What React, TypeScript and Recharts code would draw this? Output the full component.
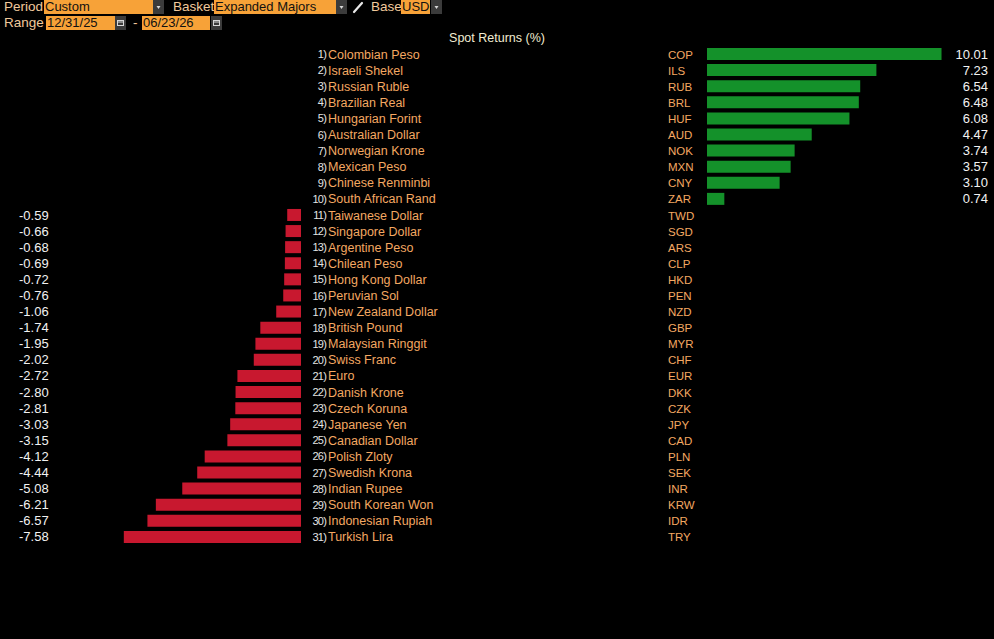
import { BarChart, Bar, XAxis, YAxis } from "recharts";

// Spot returns vs USD, sorted best to worst
const CURRENCIES = [
  "Colombian Peso", "Israeli Shekel", "Russian Ruble", "Brazilian Real", "Hungarian Forint",
  "Australian Dollar", "Norwegian Krone", "Mexican Peso", "Chinese Renminbi", "South African Rand",
  "Taiwanese Dollar", "Singapore Dollar", "Argentine Peso", "Chilean Peso", "Hong Kong Dollar",
  "Peruvian Sol", "New Zealand Dollar", "British Pound", "Malaysian Ringgit", "Swiss Franc",
  "Euro", "Danish Krone", "Czech Koruna", "Japanese Yen", "Canadian Dollar",
  "Polish Zloty", "Swedish Krona", "Indian Rupee", "South Korean Won", "Indonesian Rupiah",
  "Turkish Lira",
];
const CODES = [
  "COP", "ILS", "RUB", "BRL", "HUF", "AUD", "NOK", "MXN", "CNY", "ZAR",
  "TWD", "SGD", "ARS", "CLP", "HKD", "PEN", "NZD", "GBP", "MYR", "CHF",
  "EUR", "DKK", "CZK", "JPY", "CAD", "PLN", "SEK", "INR", "KRW", "IDR", "TRY",
];
const RETURNS = [
  10.01, 7.23, 6.54, 6.48, 6.08, 4.47, 3.74, 3.57, 3.1, 0.74,
  -0.59, -0.66, -0.68, -0.69, -0.72, -0.76, -1.06, -1.74, -1.95, -2.02,
  -2.72, -2.8, -2.81, -3.03, -3.15, -4.12, -4.44, -5.08, -6.21, -6.57, -7.58,
];

const rows = CURRENCIES.map((name, i) => ({
  name,
  rank: i + 1,
  code: CODES[i],
  ret: RETURNS[i],
  neg: RETURNS[i] < 0 ? RETURNS[i] : null,
  pos: RETURNS[i] > 0 ? RETURNS[i] : null,
}));

const FONT = "'Liberation Sans', Arial, sans-serif";
const ORANGE_TEXT = "#f4a862";
const FIELD = "#f7a238";
const GREEN = "#14912a";
const RED = "#c8182f";

const rowOf = (payload: any) => rows.find((r) => r.name === payload?.value);

const NegValueTick = (props: any) => {
  const r = rowOf(props.payload);
  if (!r || r.ret >= 0) return null;
  return (
    <text x={19} y={props.y} dy={4.5} fill="#f2f2f2" fontSize={13} fontFamily={FONT}>
      {r.ret.toFixed(2)}
    </text>
  );
};

const NameTick = (props: any) => {
  const r = rowOf(props.payload);
  if (!r) return null;
  return (
    <g>
      <text x={326} y={props.y} dy={4} textAnchor="end" fill="#e4e4e4" fontSize={11} letterSpacing={-0.8} fontFamily={FONT}>
        {r.rank})
      </text>
      <text x={328} y={props.y} dy={4.5} fill={ORANGE_TEXT} fontSize={12.5} fontFamily={FONT}>
        {r.name}
      </text>
    </g>
  );
};

const CodeTick = (props: any) => {
  const r = rowOf(props.payload);
  if (!r) return null;
  return (
    <text x={8} y={props.y} dy={4.5} fill={ORANGE_TEXT} fontSize={11.5} fontFamily={FONT}>
      {r.code}
    </text>
  );
};

const PosValueTick = (props: any) => {
  const r = rowOf(props.payload);
  if (!r || r.ret <= 0) return null;
  return (
    <text x={328} y={props.y} dy={4.5} textAnchor="end" fill="#f2f2f2" fontSize={13} fontFamily={FONT}>
      {r.ret.toFixed(2)}
    </text>
  );
};

const Label = ({ x, y, text }: { x: number; y: number; text: string }) => (
  <div style={{ position: "absolute", left: x, top: y, color: "#f1c99c", fontSize: 13.5, lineHeight: "14px" }}>{text}</div>
);

const Field = ({ x, y, w, text }: { x: number; y: number; w: number; text: string }) => (
  <div
    style={{
      position: "absolute", left: x, top: y, width: w, height: 14, background: FIELD,
      color: "#111", fontSize: 13, lineHeight: "14px", paddingLeft: 1, boxSizing: "border-box",
      whiteSpace: "nowrap",
    }}
  >
    {text}
  </div>
);

const DropButton = ({ x, y }: { x: number; y: number }) => (
  <div style={{ position: "absolute", left: x, top: y, width: 11, height: 14, background: "#3b3b3b" }}>
    <svg width={11} height={14}>
      <path d="M3.5 6 L7.5 6 L5.5 9 Z" fill="#d8d8d8" />
    </svg>
  </div>
);

const CalButton = ({ x, y }: { x: number; y: number }) => (
  <div style={{ position: "absolute", left: x, top: y, width: 11, height: 14, background: "#3b3b3b" }}>
    <svg width={11} height={14}>
      <rect x={2.5} y={4.5} width={6} height={5} fill="none" stroke="#d8d8d8" strokeWidth={1} />
      <line x1={2.5} y1={6} x2={8.5} y2={6} stroke="#d8d8d8" />
    </svg>
  </div>
);

const App = () => {
  return (
    <div
      style={{
        position: "absolute", left: 0, top: 0, width: 994, height: 639,
        background: "#000", fontFamily: FONT, overflow: "hidden",
      }}
    >
      {/* toolbar */}
      <Label x={4} y={0} text="Period" />
      <Field x={44} y={0} w={109} text="Custom" />
      <DropButton x={153} y={0} />
      <Label x={173} y={0} text="Basket" />
      <Field x={214} y={0} w={122} text="Expanded Majors" />
      <DropButton x={336} y={0} />
      <svg style={{ position: "absolute", left: 351, top: 0 }} width={14} height={14}>
        <path d="M3 12 L11 3" stroke="#e8e8e8" strokeWidth={2.2} strokeLinecap="round" />
      </svg>
      <Label x={371} y={0} text="Base" />
      <Field x={401} y={0} w={29} text="USD" />
      <DropButton x={431} y={0} />
      <Label x={4} y={16} text="Range" />
      <Field x={46} y={16} w={69} text="12/31/25" />
      <CalButton x={115} y={16} />
      <Label x={133} y={16} text="-" />
      <Field x={142} y={16} w={68} text="06/23/26" />
      <CalButton x={211} y={16} />

      <div
        style={{
          position: "absolute", left: 0, top: 31, width: 994, textAlign: "center",
          color: "#f2ecd2", fontSize: 12.5, lineHeight: "14px",
        }}
      >
        Spot Returns (%)
      </div>

      {/* losers, bars grow left from zero */}
      <div style={{ position: "absolute", left: 0, top: 0 }}>
        <BarChart
          layout="vertical"
          width={660}
          height={639}
          data={rows}
          margin={{ top: 46, right: 0, bottom: 94, left: 0 }}
        >
          <XAxis type="number" domain={[-8, 0]} hide />
          <YAxis
            yAxisId="vals"
            type="category"
            dataKey="name"
            width={114}
            interval={0}
            axisLine={false}
            tickLine={false}
            tick={<NegValueTick />}
          />
          <YAxis
            yAxisId="names"
            orientation="right"
            type="category"
            dataKey="name"
            width={359}
            interval={0}
            axisLine={false}
            tickLine={false}
            tick={<NameTick />}
          />
          <Bar dataKey="neg" yAxisId="vals" fill={RED} barSize={12} isAnimationActive={false} />
        </BarChart>
      </div>

      {/* gainers */}
      <div style={{ position: "absolute", left: 660, top: 0 }}>
        <BarChart
          layout="vertical"
          width={334}
          height={639}
          data={rows}
          margin={{ top: 46, right: 0, bottom: 94, left: 0 }}
        >
          <XAxis type="number" domain={[0, 10.5]} hide />
          <YAxis
            yAxisId="codes"
            type="category"
            dataKey="name"
            width={47}
            interval={0}
            axisLine={false}
            tickLine={false}
            tick={<CodeTick />}
          />
          <YAxis
            yAxisId="vals"
            orientation="right"
            type="category"
            dataKey="name"
            width={41}
            interval={0}
            axisLine={false}
            tickLine={false}
            tick={<PosValueTick />}
          />
          <Bar dataKey="pos" yAxisId="codes" fill={GREEN} barSize={12} isAnimationActive={false} />
        </BarChart>
      </div>
    </div>
  );
};

export default App;
